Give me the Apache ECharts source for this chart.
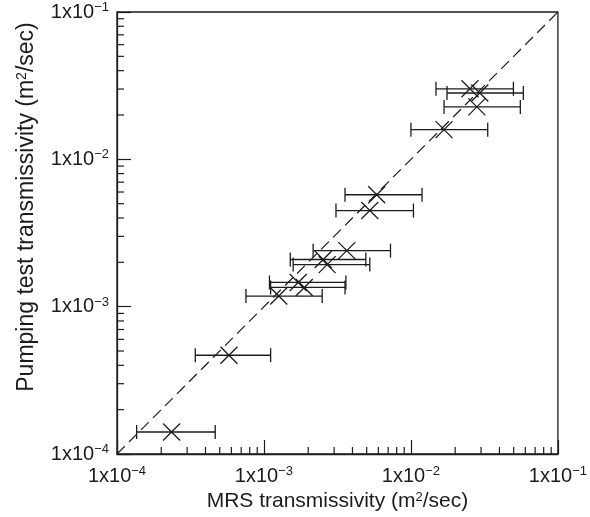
<!DOCTYPE html>
<html>
<head>
<meta charset="utf-8">
<script src="https://cdn.jsdelivr.net/npm/echarts@6/dist/echarts.min.js"></script>
<style>html,body{margin:0;padding:0;background:#fff;}#chart{width:590px;height:517px;}</style>
</head>
<body>
<div id="chart"></div>
<script>
// MRS (x) and pumping-test (y) transmissivity, m^2/sec
const mrsT   = [2.35e-4, 5.78e-4, 1.26e-3, 1.71e-3, 1.88e-3, 2.53e-3, 2.69e-3, 3.66e-3, 5.25e-3, 5.85e-3, 1.68e-2, 2.52e-2, 2.94e-2, 2.81e-2];
const pumpT  = [1.41e-4, 4.68e-4, 1.18e-3, 1.46e-3, 1.35e-3, 2.09e-3, 1.93e-3, 2.40e-3, 4.49e-3, 5.75e-3, 1.59e-2, 3.01e-2, 2.82e-2, 2.27e-2];
const mrsLow = [1.36e-4, 3.41e-4, 7.54e-4, 1.09e-3, 1.11e-3, 1.51e-3, 1.58e-3, 2.16e-3, 3.09e-3, 3.56e-3, 1.00e-2, 1.48e-2, 1.76e-2, 1.68e-2];
const mrsHigh= [4.66e-4, 1.11e-3, 2.49e-3, 3.61e-3, 3.56e-3, 4.93e-3, 5.25e-3, 7.26e-3, 1.04e-2, 1.19e-2, 3.33e-2, 4.98e-2, 5.82e-2, 5.55e-2];
// 1:1 reference line end points
const oneToOne = [[1e-4, 1e-4], [1e-1, 1e-1]];
// axis range and minor tick structure
const axisMin = 1e-4, axisMax = 1e-1;
const decades = [1e-4, 1e-3, 1e-2];
const minorMults = [2, 3, 4, 5, 6, 7, 8, 9];
const xTitle = 'MRS transmissivity (m{s|2}/sec)';
const yTitle = 'Pumping test transmissivity (m{s2|2}/sec)';

const INK = '#1c1c1c';
const FONT = '"Liberation Sans", Arial, Helvetica, sans-serif';

const minorVals = [];
decades.forEach(d => minorMults.forEach(m => minorVals.push(+(m * d).toPrecision(3))));

const pts = mrsT.map((x, i) => [x, pumpT[i], mrsLow[i], mrsHigh[i]]);

function tickLabel(v) {
  const e = Math.round(Math.log10(v));
  return '{b|1x10}{s|\u2212' + (-e) + '}';
}
const labelRich = {
  b: { fontSize: 20, fontFamily: FONT, color: INK, lineHeight: 22 },
  s: { fontSize: 13, fontFamily: FONT, color: INK, lineHeight: 15, verticalAlign: 'top' }
};
const nameRich = {
  s: { fontSize: 13, fontFamily: FONT, color: INK, lineHeight: 14, verticalAlign: 'top' },
  s2: { fontSize: 14, fontFamily: FONT, color: INK, lineHeight: 15, verticalAlign: 'top' }
};

function axisCommon() {
  return {
    type: 'log', logBase: 10, min: axisMin, max: axisMax, splitNumber: 3,
    axisLine: { show: true, lineStyle: { color: INK, width: 1.3 } },
    axisTick: { show: true, inside: true, length: 14, lineStyle: { color: INK, width: 1.2 } },
    splitLine: { show: false },
    nameLocation: 'middle'
  };
}

const chart = echarts.init(document.getElementById('chart'), null, { renderer: 'canvas' });
chart.setOption({
  animation: false,
  backgroundColor: '#fff',
  grid: { left: 117, right: 28, top: 12, bottom: 62, show: true, borderColor: INK, borderWidth: 1.3, backgroundColor: 'transparent' },
  xAxis: Object.assign(axisCommon(), {
    name: xTitle, nameGap: 37,
    nameTextStyle: { fontSize: 21, fontFamily: FONT, color: INK, rich: nameRich },
    axisLabel: { formatter: tickLabel, rich: labelRich, margin: 11 }
  }),
  yAxis: Object.assign(axisCommon(), {
    name: yTitle, nameGap: 79,
    nameTextStyle: { fontSize: 23, fontFamily: FONT, color: INK, rich: nameRich, padding: [0, 0, 0, 52] },
    axisLabel: { formatter: tickLabel, rich: labelRich, margin: 8 }
  }),
  series: [
    {
      type: 'line', data: oneToOne, symbol: 'none', silent: true,
      lineStyle: { color: INK, width: 1.2, type: [11, 6] }, z: 2
    },
    {
      type: 'custom', data: minorVals.map(v => [v, axisMin]), silent: true, z: 3,
      renderItem: function (params, api) {
        const p = api.coord([api.value(0), api.value(1)]);
        return { type: 'line', shape: { x1: p[0], y1: p[1], x2: p[0], y2: p[1] - 7 }, style: { stroke: INK, lineWidth: 1.2 } };
      }
    },
    {
      type: 'custom', data: minorVals.map(v => [axisMin, v]), silent: true, z: 3,
      renderItem: function (params, api) {
        const p = api.coord([api.value(0), api.value(1)]);
        return { type: 'line', shape: { x1: p[0], y1: p[1], x2: p[0] + 7, y2: p[1] }, style: { stroke: INK, lineWidth: 1.2 } };
      }
    },
    {
      type: 'custom', data: pts, silent: true, z: 4,
      encode: { x: [0, 2, 3], y: 1 },
      renderItem: function (params, api) {
        const c = api.coord([api.value(0), api.value(1)]);
        const l = api.coord([api.value(2), api.value(1)]);
        const h = api.coord([api.value(3), api.value(1)]);
        const st = { stroke: INK, lineWidth: 1.3 };
        const cap = 7, m = 8.5;
        return {
          type: 'group',
          children: [
            { type: 'line', shape: { x1: l[0], y1: l[1], x2: h[0], y2: h[1] }, style: st },
            { type: 'line', shape: { x1: l[0], y1: l[1] - cap, x2: l[0], y2: l[1] + cap }, style: st },
            { type: 'line', shape: { x1: h[0], y1: h[1] - cap, x2: h[0], y2: h[1] + cap }, style: st },
            { type: 'line', shape: { x1: c[0] - m, y1: c[1] - m, x2: c[0] + m, y2: c[1] + m }, style: st },
            { type: 'line', shape: { x1: c[0] - m, y1: c[1] + m, x2: c[0] + m, y2: c[1] - m }, style: st }
          ]
        };
      }
    }
  ]
});
</script>
</body>
</html>
